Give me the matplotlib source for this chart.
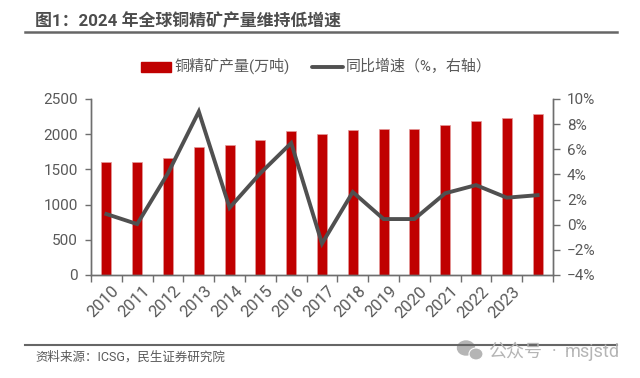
import numpy as np
from matplotlib import pyplot as plt
from matplotlib.patches import Ellipse, Rectangle
from matplotlib.lines import Line2D

plt.rcParams['font.family'] = ['Roboto', 'Noto Sans CJK SC', 'DejaVu Sans']

W = 640
H = 378

# Data
years = ['2010', '2011', '2012', '2013', '2014', '2015', '2016', '2017',
         '2018', '2019', '2020', '2021', '2022', '2023', '']
output = [1600, 1600, 1665, 1815, 1840, 1915, 2040, 2005,
          2060, 2070, 2075, 2125, 2190, 2235, 2290]
growth = [0.85, 0.05, 4.1, 9.0, 1.35, 4.1, 6.5, -1.5,
          2.6, 0.45, 0.45, 2.5, 3.15, 2.15, 2.35]
left_ticks = [0, 500, 1000, 1500, 2000, 2500]
right_ticks = [-4, -2, 0, 2, 4, 6, 8, 10]

TEXT = '#595959'
AXIS = '#6e6e6e'
RED = '#c00000'
LINE = '#505050'

def px(x, y):
    return x / W, 1 - y / H

fig = plt.figure(figsize=(W / 100, H / 100), dpi=100)

# axes box in pixels: x 91..553, y 99..275
ax = fig.add_axes([91 / W, 1 - 275 / H, (553 - 91) / W, (275 - 99) / H])
x = np.arange(len(years))
ax.bar(x, output, width=0.32, color=RED, edgecolor='#e49a9a', linewidth=0.5, zorder=2)
ax.set_xlim(-0.5, len(years) - 0.5)
ax.set_ylim(0, 2500)
ax.set_yticks(left_ticks)
ax.tick_params(axis='y', direction='out', length=4.5, width=1, color=AXIS,
               labelcolor=TEXT, labelsize=11, pad=5)

ax.set_xticks(np.arange(len(years) + 1) - 0.5)
ax.set_xticklabels([])
ax.tick_params(axis='x', direction='out', length=5, width=1, color=AXIS)
for i, y in enumerate(years):
    ax.annotate(y, xy=(i, 0), xycoords=('data', 'axes fraction'),
                xytext=(7.5, -10), textcoords='offset points', rotation=45,
                rotation_mode='anchor', ha='right', va='center',
                color=TEXT, fontsize=12)

ax2 = ax.twinx()
ax2.plot(x, growth, color=LINE, linewidth=2.8, solid_joinstyle='miter', zorder=5)
ax2.set_ylim(-4, 10)
ax2.set_yticks(right_ticks)
ax2.set_yticklabels([f'{t}%'.replace('-', '\u2212') for t in right_ticks])
ax2.tick_params(axis='y', direction='out', length=5, width=1, color=AXIS,
                labelcolor=TEXT, labelsize=11, pad=5)

for a in (ax, ax2):
    a.spines['top'].set_visible(False)
    for s in ('left', 'right', 'bottom'):
        a.spines[s].set_color(AXIS)
        a.spines[s].set_linewidth(1)

# title, rules, source
fig.text(*px(35, 21), '图1：2024 年全球铜精矿产量维持低增速', color='#4d4d4d',
         fontsize=12.2, fontweight='bold', va='center', ha='left')
fig.add_artist(Line2D([25 / W, 617 / W], [1 - 32 / H] * 2, color='#666666', linewidth=1.8))
fig.add_artist(Line2D([25 / W, 617 / W], [1 - 345 / H] * 2, color='#666666', linewidth=1.5))
fig.text(*px(35, 357), '资料来源：ICSG，民生证券研究院', color=TEXT,
         fontsize=9, va='center', ha='left')

# legend drawn by hand so it sits where the original has it
fig.add_artist(Rectangle(px(141, 72), 30 / W, 10 / H, color=RED, transform=fig.transFigure))
fig.text(*px(174, 66), '铜精矿产量(万吨)', color=TEXT, fontsize=10.8, va='center', ha='left')
fig.add_artist(Line2D([312 / W, 343 / W], [1 - 67 / H] * 2, color=LINE, linewidth=2.8,
                      solid_capstyle='round'))
fig.text(*px(346, 66), '同比增速（%，右轴）', color=TEXT, fontsize=10.8, va='center', ha='left')

# watermark
WM = '#b5b5b5'
fig.add_artist(Ellipse(px(466, 348), 17 / W, 14 / H, color=WM, transform=fig.transFigure))
fig.add_artist(Ellipse(px(476, 354), 14 / W, 12 / H, facecolor=WM, edgecolor='white', linewidth=0.8,
                       transform=fig.transFigure))
fig.text(*px(488, 352), '公众号', color=WM, fontsize=13, va='center', ha='left')
fig.text(*px(552, 352), '·', color=WM, fontsize=13, va='center', ha='left')
fig.text(*px(565, 352), 'msjstd', color=WM, fontsize=13, va='center', ha='left')

fig.savefig('out.png', dpi=100)
